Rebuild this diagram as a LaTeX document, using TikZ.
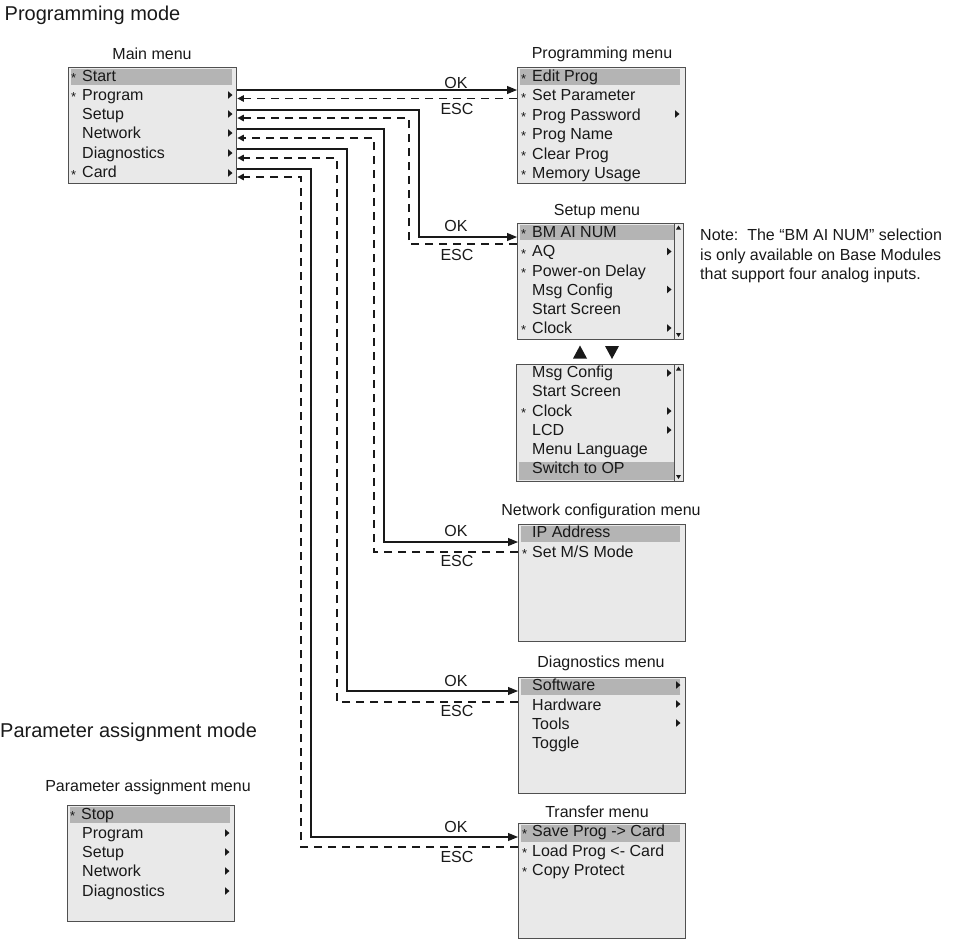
\documentclass[tikz,border=0pt]{standalone}
\usepackage{fontspec}
\setmainfont{Liberation Sans}
\usetikzlibrary{arrows.meta}
\definecolor{boxfill}{RGB}{233,233,233}
\definecolor{hilite}{RGB}{180,180,180}
\definecolor{boxline}{RGB}{80,80,80}
\definecolor{ink}{RGB}{25,25,25}
\begin{document}
\begin{tikzpicture}[x=1pt,y=-1pt,
  menubox/.style={draw=boxline,fill=boxfill,line width=1.4pt,anchor=north west,inner sep=0pt},
  item/.style={anchor=base west,inner sep=0pt,text=ink,font=\fontsize{16}{19}\selectfont},
  title/.style={anchor=base,inner sep=0pt,text=ink,font=\fontsize{16}{19}\selectfont},
  starmark/.style={anchor=base west,inner sep=0pt,text=ink,font=\fontsize{13}{14}\selectfont},
  heading/.style={anchor=base west,inner sep=0pt,text=ink,font=\fontsize{20}{24}\selectfont},
  okline/.style={draw=ink,line width=1.1pt,-{Triangle[length=10pt,width=8pt]}},
  escline/.style={draw=ink,line width=1.1pt,dash pattern=on 8pt off 6pt,-{Triangle[length=6.5pt,width=6.5pt]}},
  scrollbar/.style={draw=boxline,line width=1pt},
  sub/.pic={\fill[ink] (-2,-3.8) -- (2.5,0) -- (-2,3.8) -- cycle;},
  scrollup/.pic={\fill[ink] (-2.5,2) -- (0,-2) -- (2.5,2) -- cycle;},
  scrolldown/.pic={\fill[ink] (-2.5,-2) -- (0,2) -- (2.5,-2) -- cycle;}
]
\useasboundingbox (0,0) rectangle (954,940);

% headings
\node[heading] (hprog) at (4.5,20.5) {Programming mode};
\node[heading] (hpar) at (0,737) {Parameter assignment mode};

% ---------------- Main menu
\node[title] (tmain) at (152,59) {Main menu};
\node[menubox,minimum width=168pt,minimum height=116pt] (main) at (68,67) {};
\fill[hilite] (71,68.5) rectangle (232,85);
\node[starmark] (ms1) at (71,82.5) {*};
\node[starmark] (ms2) at (71,101.5) {*};
\node[starmark] (ms6) at (71,179) {*};
\node[item] (m1) at (82,81) {Start};
\node[item] (m2) at (82,100) {Program};
\node[item] (m3) at (82,119.5) {Setup};
\node[item] (m4) at (82,138.5) {Network};
\node[item] (m5) at (82,158) {Diagnostics};
\node[item] (m6) at (82,177.5) {Card};
\pic at (230,95) {sub};
\pic at (230,114) {sub};
\pic at (230,133) {sub};
\pic at (230,153) {sub};
\pic at (230,173) {sub};

% ---------------- Programming menu
\node[title] (tprog) at (602,58.5) {Programming menu};
\node[menubox,minimum width=168pt,minimum height=116pt] (prog) at (517,67) {};
\fill[hilite] (519.5,68.5) rectangle (680,85);
\node[starmark] (ps1) at (521,83) {*};
\node[starmark] (ps2) at (521,102.2) {*};
\node[starmark] (ps3) at (521,121.5) {*};
\node[starmark] (ps4) at (521,140.8) {*};
\node[starmark] (ps5) at (521,160.5) {*};
\node[starmark] (ps6) at (521,179.5) {*};
\node[item] (p1) at (532,81.5) {Edit Prog};
\node[item] (p2) at (532,100.7) {Set Parameter};
\node[item] (p3) at (532,120) {Prog Password};
\node[item] (p4) at (532,139.3) {Prog Name};
\node[item] (p5) at (532,159) {Clear Prog};
\node[item] (p6) at (532,178) {Memory Usage};
\pic at (677,114) {sub};

% ---------------- Setup menu (page 1)
\node[title] (tsetup) at (597,215) {Setup menu};
\node[menubox,minimum width=166pt,minimum height=116pt] (setupa) at (517,223) {};
\fill[hilite] (519.5,224.5) rectangle (674,240);
\draw[scrollbar] (674,223) -- (674,339);
\pic at (678.5,227.5) {scrollup};
\pic at (678.5,335) {scrolldown};
\node[starmark] (ss1) at (521,238.8) {*};
\node[starmark] (ss2) at (521,258.2) {*};
\node[starmark] (ss3) at (521,277.5) {*};
\node[starmark] (ss6) at (521,334.8) {*};
\node[item] (sa1) at (532,237.3) {BM AI NUM};
\node[item] (sa2) at (532,256.7) {AQ};
\node[item] (sa3) at (532,276) {Power-on Delay};
\node[item] (sa4) at (532,295) {Msg Config};
\node[item] (sa5) at (532,314) {Start Screen};
\node[item] (sa6) at (532,333.3) {Clock};
\pic at (669,251.5) {sub};
\pic at (669,289.5) {sub};
\pic at (669,328) {sub};

% scroll symbols
\fill[ink] (580,345.5) -- (587,358.5) -- (573,358.5) -- cycle;
\fill[ink] (605,346) -- (619,346) -- (612,359) -- cycle;

% ---------------- Setup menu (page 2)
\node[menubox,minimum width=167pt,minimum height=117pt] (setupb) at (516,364) {};
\fill[hilite] (518.5,462) rectangle (674,479.5);
\draw[scrollbar] (674,364) -- (674,481);
\pic at (678.5,368.5) {scrollup};
\pic at (678.5,477) {scrolldown};
\node[starmark] (sb3) at (521,417.5) {*};
\node[item] (sb1) at (532,377.3) {Msg Config};
\node[item] (sb2) at (532,396.7) {Start Screen};
\node[item] (sb3t) at (532,416) {Clock};
\node[item] (sb4) at (532,435) {LCD};
\node[item] (sb5) at (532,454.3) {Menu Language};
\node[item] (sb6) at (532,473.3) {Switch to OP};
\pic at (669,373) {sub};
\pic at (669,411) {sub};
\pic at (669,430) {sub};

% note
\node[item] (note1) at (700,240.7) {Note:\ \ The “BM AI NUM” selection};
\node[item] (note2) at (700,260) {is only available on Base Modules};
\node[item] (note3) at (700,279.3) {that support four analog inputs.};

% ---------------- Network configuration menu
\node[title] (tnet) at (601,515.7) {Network configuration menu};
\node[menubox,minimum width=167pt,minimum height=117pt] (net) at (518,524) {};
\fill[hilite] (520.5,526) rectangle (680,542);
\node[starmark] (ns2) at (522,558.8) {*};
\node[item] (n1) at (532,537.7) {IP Address};
\node[item] (n2) at (532,557.3) {Set M/S Mode};

% ---------------- Diagnostics menu
\node[title] (tdiag) at (601,667.3) {Diagnostics menu};
\node[menubox,minimum width=167pt,minimum height=116pt] (diag) at (518,677) {};
\fill[hilite] (520.5,679) rectangle (680,694.5);
\node[item] (d1) at (532,690) {Software};
\node[item] (d2) at (532,710) {Hardware};
\node[item] (d3) at (532,729) {Tools};
\node[item] (d4) at (532,748) {Toggle};
\pic at (678,685) {sub};
\pic at (678,704) {sub};
\pic at (678,723) {sub};

% ---------------- Transfer menu
\node[title] (ttrans) at (597,817.7) {Transfer menu};
\node[menubox,minimum width=167pt,minimum height=115pt] (trans) at (518,823) {};
\fill[hilite] (520.5,825) rectangle (680,842.3);
\node[starmark] (ts1) at (522,838.2) {*};
\node[starmark] (ts2) at (522,857.5) {*};
\node[starmark] (ts3) at (522,876.8) {*};
\node[item] (t1) at (532,836.7) {Save Prog -> Card};
\node[item] (t2) at (532,856) {Load Prog <- Card};
\node[item] (t3) at (532,875.3) {Copy Protect};

% ---------------- Parameter assignment menu
\node[title] (tpar) at (148,791.7) {Parameter assignment menu};
\node[menubox,minimum width=167pt,minimum height=116pt] (par) at (67,805) {};
\fill[hilite] (69.5,806.5) rectangle (230,822.7);
\node[starmark] (qs1) at (70,820.8) {*};
\node[item] (q1) at (81,819.3) {Stop};
\node[item] (q2) at (82,838.3) {Program};
\node[item] (q3) at (82,857.3) {Setup};
\node[item] (q4) at (82,876.7) {Network};
\node[item] (q5) at (82,896) {Diagnostics};
\pic at (227,833) {sub};
\pic at (227,852) {sub};
\pic at (227,871) {sub};
\pic at (227,891) {sub};

% ---------------- connectors
% Program
\draw[okline] (main.east |- 0,90) -- (prog.west |- 0,90);
\draw[escline] (prog.west |- 0,98.5) -- (main.east |- 0,98.5);
\node[title] (ok1) at (456,88) {OK};
\node[title] (esc1) at (457,114) {ESC};
% Setup
\draw[okline] (main.east |- 0,110) -| (419,237) -- (setupa.west |- 0,237);
\draw[escline] (setupa.west |- 0,244) -| (409,118) -- (main.east |- 0,118);
\node[title] (ok2) at (456,231.7) {OK};
\node[title] (esc2) at (457,260) {ESC};
% Network
\draw[okline] (main.east |- 0,129) -| (384,542) -- (net.west |- 0,542);
\draw[escline] (net.west |- 0,552) -| (374,138) -- (main.east |- 0,138);
\node[title] (ok3) at (456,536.7) {OK};
\node[title] (esc3) at (457,566.7) {ESC};
% Diagnostics
\draw[okline] (main.east |- 0,149) -| (347,691) -- (diag.west |- 0,691);
\draw[escline] (diag.west |- 0,702) -| (337,158) -- (main.east |- 0,158);
\node[title] (ok4) at (456,686.7) {OK};
\node[title] (esc4) at (457,716.7) {ESC};
% Card
\draw[okline] (main.east |- 0,169) -| (311,837) -- (trans.west |- 0,837);
\draw[escline] (trans.west |- 0,847) -| (301,177) -- (main.east |- 0,177);
\node[title] (ok5) at (456,832.7) {OK};
\node[title] (esc5) at (457,862.3) {ESC};
\end{tikzpicture}
\end{document}
